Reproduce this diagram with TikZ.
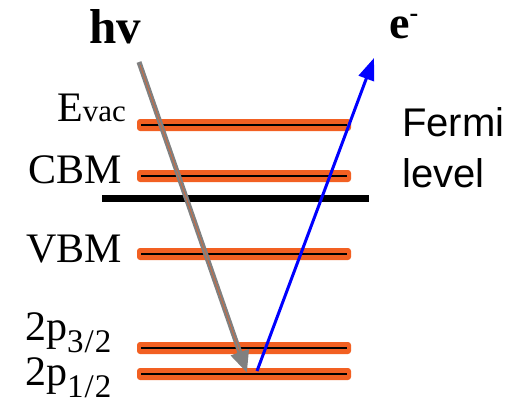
\documentclass[tikz,border=0pt]{standalone}
\usepackage{fontspec}
\setmainfont{Liberation Serif}
\newfontfamily\sansf{Liberation Sans}
\usetikzlibrary{arrows.meta,calc}
\definecolor{barorange}{RGB}{242,96,34}
\definecolor{arrgray}{RGB}{128,128,128}
\definecolor{pureblue}{RGB}{0,0,255}
\tikzset{
  lvlbar/.style={fill=barorange, rounded corners=3pt},
  lvlline/.style={draw=black, line width=1.3pt},
  lbl/.style={inner sep=0pt, font=\fontsize{42}{42}\selectfont},
  sanslbl/.style={inner sep=0pt, font=\sansf\fontsize{40}{51}\selectfont, align=left},
}
\begin{document}
\begin{tikzpicture}[x=1pt,y=-1pt]
\useasboundingbox (0,0) rectangle (519,407);
% levels
\foreach \yy/\nm in {125/evac,176/cbm,254/vbm,348/pthree,374/pone}{
  \fill[lvlbar] (137,\yy-6) rectangle (351,\yy+6);
  \draw[lvlline] (141,\yy) -- (347,\yy);
  \coordinate (\nm) at (244,\yy);
}
% Fermi level
\draw[line width=7pt] (102,198) -- (369,198);
% labels
\node[lbl, anchor=base west] (hv) at (89,43) {\fontsize{49}{49}\selectfont\bfseries hv};
\node[lbl, anchor=base west] (el) at (389,38) {\fontsize{46}{46}\selectfont\bfseries e\raisebox{17pt}{\fontsize{26}{26}\selectfont -}};
\node[lbl, anchor=base west] (evl) at (57,121) {E\fontsize{31}{31}\selectfont vac};
\node[lbl, anchor=base east] (cbml) at (122,183) {CBM};
\node[lbl, anchor=base east] (vbml) at (122,262) {VBM};
\node[lbl, anchor=base west] (p3l) at (25,340) {2p\raisebox{-12pt}{\fontsize{33}{33}\selectfont 3\kern1pt/\kern1pt2}};
\node[lbl, anchor=base west] (p1l) at (25,385) {2p\raisebox{-12pt}{\fontsize{33}{33}\selectfont 1\kern1pt/\kern1pt2}};
\node[sanslbl, anchor=base west] (fermi) at (402,187) {Fermi\\level};
% arrows
\coordinate (gs) at (139,62);
\coordinate (ge) at (247,373);
\coordinate (bs) at (257,371);
\coordinate (be) at (374,58);
\draw[arrgray, line width=5pt, -{Triangle[length=22pt,width=18pt]}] (gs) -- (ge);
\draw[barorange!70!arrgray, line width=0.8pt] ($(gs)!0.01!(ge)$) -- ($(gs)!0.93!(ge)$);
\draw[pureblue, line width=3pt, -{Triangle[length=22pt,width=16pt]}] (bs) -- (be);
\end{tikzpicture}
\end{document}
